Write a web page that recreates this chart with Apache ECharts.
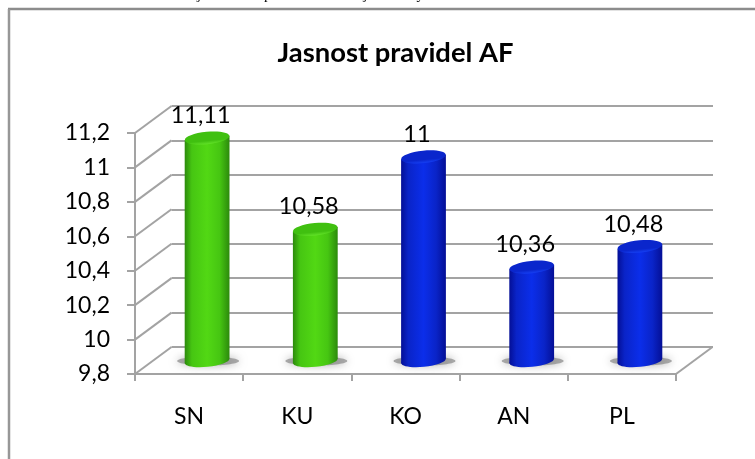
<!DOCTYPE html>
<html>
<head>
<meta charset="utf-8">
<style>html,body{margin:0;padding:0;background:#fff}#chart{width:755px;height:459px}</style>
<script src="https://cdn.jsdelivr.net/npm/echarts@6/dist/echarts.min.js"></script>
</head>
<body>
<div id="chart"></div>
<script>
const chartTitle = 'Jasnost pravidel AF';
const categories = ['SN', 'KU', 'KO', 'AN', 'PL'];
const values = [11.11, 10.58, 11, 10.36, 10.48];
const barGroups = ['green', 'green', 'blue', 'blue', 'blue'];
const valueTicks = [9.8, 10, 10.2, 10.4, 10.6, 10.8, 11, 11.2];
const captionWords = ['Graf 11: Úroveň', 'jasnost', 'pravidel AF', 'v jednotlivých', 'SU'];

const axisMin = 9.8, axisMax = 11.2, axisStep = 0.2;
const depthX = 36.5, depthY = -27;     // offset of the back wall from the front plane
const barDepthX = 18, barBaseY = -13, barTopY = -10.5;
const font = 'Lato, Carlito, sans-serif';
const gridGrey = '#a3a3a3';
const comma = v => String(v).replace('.', ',');

const tones = {
  green: { edge: '#2c8a0c', side: '#46c612', mid: '#52d814', capA: '#40c010', capB: '#62e228' },
  blue:  { edge: '#040f96', side: '#0a24c8', mid: '#0b2eea', capA: '#0a26cc', capB: '#1640f4' }
};
const sideFill = t => ({
  type: 'linear', x: 0, y: 0, x2: 1, y2: 0,
  colorStops: [
    { offset: 0, color: t.edge }, { offset: 0.16, color: t.side },
    { offset: 0.5, color: t.mid }, { offset: 0.78, color: t.side },
    { offset: 1, color: t.edge }
  ]
});

// Diagonal edges joining the front plane to the back wall.
function renderDepthEdge(params, api) {
  const rect = params.coordSys;
  const y = api.coord([0, api.value(0)])[1];
  const line = (x) => ({
    type: 'line',
    shape: { x1: x, y1: y, x2: x + depthX, y2: y + depthY },
    style: { stroke: gridGrey, lineWidth: 2 }
  });
  const kids = [line(rect.x)];
  if (params.dataIndex === 0) kids.push(line(rect.x + rect.width));
  return { type: 'group', children: kids };
}

// One cylinder: floor shadow, side wall, tilted top cap and the value above it.
function renderBar(params, api) {
  const cat = api.value(0), val = api.value(1);
  const top = api.coord([cat, val]);
  const base = api.coord([cat, axisMin]);
  const cx = top[0] + barDepthX;
  const yTop = top[1] + barTopY;
  const yBase = base[1] + barBaseY;
  const halfW = api.size([1, 0])[0] * 0.207;
  const t = tones[barGroups[params.dataIndex]];
  const tilt = 0.1;
  const lift = halfW * Math.sin(tilt);
  return {
    type: 'group',
    children: [
      {
        type: 'ellipse',
        shape: { cx: cx + 1, cy: yBase, rx: halfW * 1.38, ry: 4.5 },
        style: { fill: 'rgba(120,120,120,0.6)', shadowBlur: 9, shadowColor: 'rgba(120,120,120,0.95)' }
      },
      {
        type: 'ellipse',
        originX: cx, originY: yBase, rotation: tilt,
        shape: { cx: cx, cy: yBase, rx: halfW, ry: 5.8 },
        style: { fill: sideFill(t) }
      },
      {
        type: 'polygon',
        shape: {
          points: [
            [cx - halfW, yTop + lift], [cx + halfW, yTop - lift],
            [cx + halfW, yBase - lift], [cx - halfW, yBase + lift]
          ]
        },
        style: { fill: sideFill(t) }
      },
      {
        type: 'ellipse',
        originX: cx, originY: yTop, rotation: tilt,
        shape: { cx: cx, cy: yTop, rx: halfW, ry: 6.2 },
        style: {
          fill: {
            type: 'linear', x: 0, y: 0, x2: 0, y2: 1,
            colorStops: [
              { offset: 0, color: t.capA }, { offset: 0.72, color: t.capA },
              { offset: 1, color: t.capB }
            ]
          }
        }
      },
      {
        type: 'text',
        style: {
          text: comma(val), x: cx - 6.5, y: yTop - 10.5,
          align: 'center', verticalAlign: 'bottom',
          font: '23.5px ' + font, fill: '#000'
        }
      }
    ]
  };
}

const captionX = [2, 197, 264, 352, 470];
const option = {
  animation: false,
  backgroundColor: '#fff',
  title: {
    text: chartTitle, left: 390.5, top: 35, textAlign: 'center',
    textStyle: { fontFamily: font, fontWeight: 'bold', fontSize: 27.4, color: '#000' }
  },
  graphic: [
    { type: 'line', shape: { x1: 8, y1: 9, x2: 755, y2: 9 }, style: { stroke: '#8c8c8c', lineWidth: 2.5 } },
    { type: 'line', shape: { x1: 9, y1: 9, x2: 9, y2: 459 }, style: { stroke: '#979797', lineWidth: 2.5 } }
  ].concat(captionWords.map((w, i) => ({
    type: 'text', x: captionX[i], y: 3,
    style: { text: w, font: '15px "Liberation Serif", serif', fill: '#000', verticalAlign: 'bottom' }
  }))),
  grid: [
    { left: 135, top: 133, width: 541, height: 241 },
    { left: 171.5, top: 106, width: 541.5, height: 241 }
  ],
  xAxis: [
    {
      type: 'category', gridIndex: 0, data: categories,
      axisLine: { lineStyle: { color: gridGrey, width: 2 } },
      axisTick: { show: true, length: 7, alignWithLabel: false, lineStyle: { color: gridGrey, width: 2 } },
      axisLabel: { margin: 31, fontFamily: font, fontSize: 23, color: '#000' }
    },
    {
      type: 'category', gridIndex: 1, data: categories,
      axisLine: { show: false }, axisTick: { show: false }, axisLabel: { show: false }
    }
  ],
  yAxis: [
    {
      type: 'value', gridIndex: 0, min: axisMin, max: axisMax, interval: axisStep,
      axisLine: { show: true, lineStyle: { color: gridGrey, width: 2 } },
      axisTick: { show: true, length: 8, lineStyle: { color: gridGrey, width: 2 } },
      splitLine: { show: false },
      axisLabel: {
        margin: 25, fontFamily: font, fontSize: 23, color: '#000',
        formatter: v => comma(+v.toFixed(1))
      }
    },
    {
      type: 'value', gridIndex: 1, min: axisMin, max: axisMax, interval: axisStep,
      axisLine: { show: false }, axisTick: { show: false }, axisLabel: { show: false },
      splitLine: { show: true, lineStyle: { color: gridGrey, width: 2 } }
    }
  ],
  series: [
    {
      type: 'custom', xAxisIndex: 0, yAxisIndex: 0, silent: true, z: 1,
      renderItem: renderDepthEdge, data: valueTicks.map(v => [v]),
      encode: { y: 0 }
    },
    {
      type: 'custom', xAxisIndex: 0, yAxisIndex: 0, silent: true, z: 5,
      renderItem: renderBar, data: values.map((v, i) => [i, v]),
      encode: { x: 0, y: 1 }, clip: false
    }
  ]
};
echarts.init(document.getElementById('chart'), null, { renderer: 'canvas' }).setOption(option);
</script>
</body>
</html>
